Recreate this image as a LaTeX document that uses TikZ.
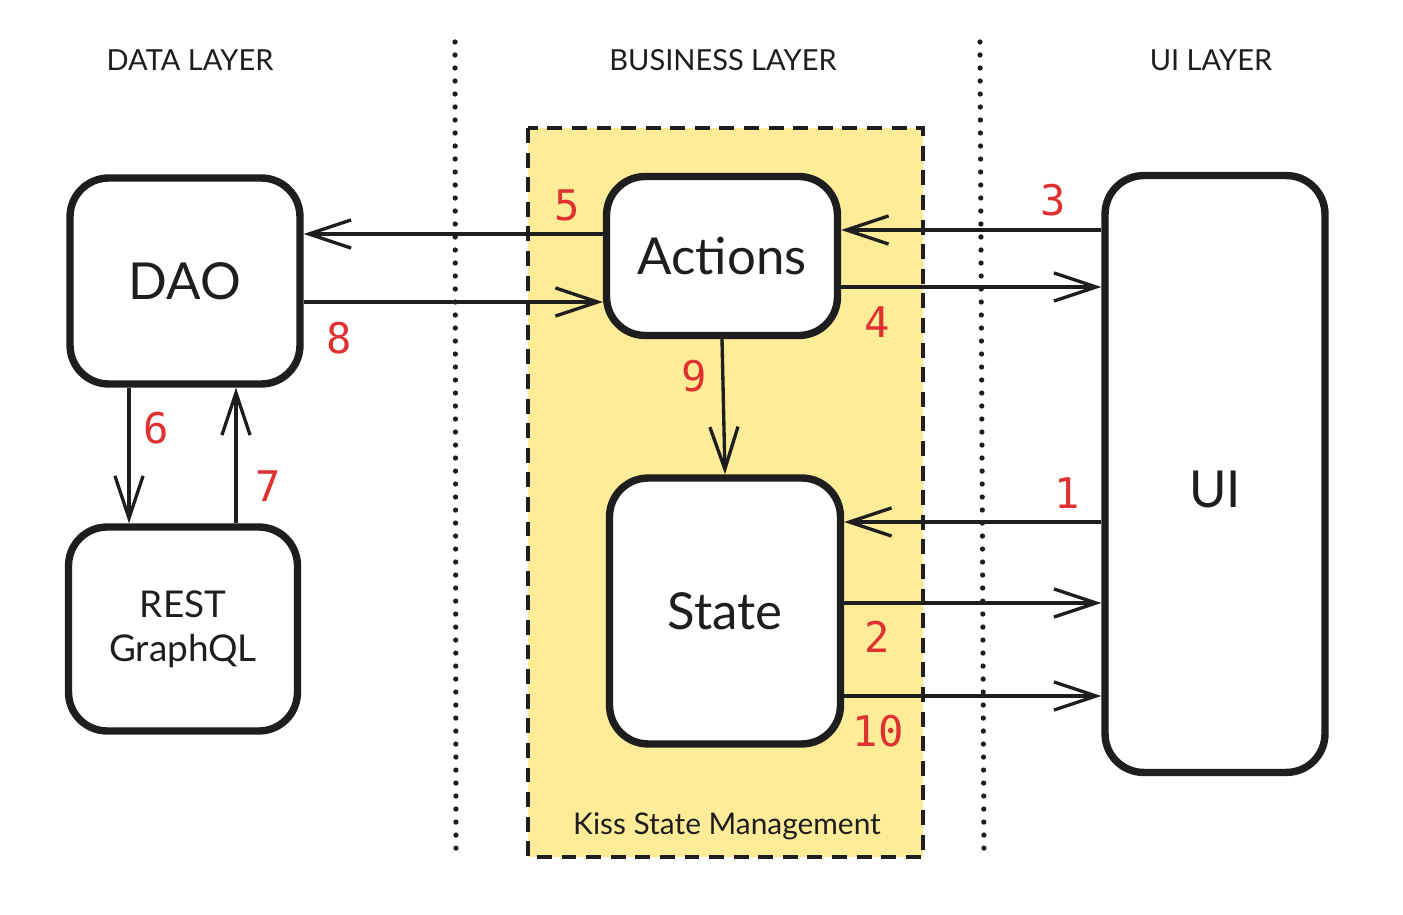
\documentclass[tikz,border=0pt]{standalone}
\usepackage{fontspec}
\setmainfont{Lato}
\newfontfamily\numfont{DejaVu Sans Mono}
\usetikzlibrary{arrows.meta,calc}
\definecolor{numred}{HTML}{E03131}
\definecolor{zoneyellow}{HTML}{FFEC99}
\definecolor{ink}{HTML}{1E1E1E}
\begin{document}
\begin{tikzpicture}[x=0.02cm,y=-0.02cm,
  box/.style={draw=ink,line width=4.2pt,rounded corners=22pt,fill=white,inner sep=0pt,align=center,text=ink},
  arr/.style={draw=ink,line width=1.9pt,-{Straight Barb[length=24pt,width=16pt,line width=1.9pt]}},
  num/.style={text=numred,font=\numfont\fontsize{24}{28}\selectfont},
  layer/.style={font=\fontsize{16.5}{20}\selectfont,text=ink},
  sep/.style={draw=ink,line width=3pt,line cap=round,dash pattern=on 0pt off 7.4pt},
  zone/.style={draw=ink,fill=zoneyellow,line width=1.8pt,dash pattern=on 8.5pt off 5.5pt}]
\fill[white] (0,0) rectangle (1403,915);
\useasboundingbox (0,0) rectangle (1403,915);
% layer separators
\draw[sep] (455,42) -- (456,858);
\draw[sep] (980,42) -- (984,858);
% layer titles
\node[layer] (tdata) at (190,60) {DATA LAYER};
\node[layer] (tbus) at (723,60) {BUSINESS LAYER};
\node[layer] (tui) at (1211,60) {UI LAYER};
% business zone
\path[zone] (528,128) rectangle (923,857);
\node[font=\fontsize{17}{20}\selectfont,text=ink] (kiss) at (727,826) {Kiss State Management};
% boxes
\node[box,minimum width=4.6cm,minimum height=4.12cm,font=\fontsize{29}{34}\selectfont] (dao) at (185,281) {DAO};
\node[box,minimum width=4.58cm,minimum height=4.08cm,font=\fontsize{21}{25}\selectfont] (rest) at (183,629) {REST\\GraphQL};
\node[box,minimum width=4.62cm,minimum height=3.18cm,font=\fontsize{29}{34}\selectfont] (act) at (722,256) {Actions};
\node[box,minimum width=4.62cm,minimum height=5.32cm,font=\fontsize{29}{34}\selectfont] (state) at (725,611) {State};
\node[box,minimum width=4.4cm,minimum height=11.94cm,font=\fontsize{29}{34}\selectfont] (ui) at (1215,474) {\raisebox{-0.68cm}[0pt][0pt]{UI}};
% connectors
\draw[arr] ($(act.west)+(0,-22)$) coordinate (a5) -- (a5 -| dao.east);
\draw[arr] ($(dao.east)+(0,21)$) coordinate (a8) -- (a8 -| act.west);
\draw[arr] ($(ui.west)+(0,-244)$) coordinate (a3) -- (a3 -| act.east);
\draw[arr] ($(act.east)+(0,31)$) coordinate (a4) -- (a4 -| ui.west);
\draw[arr] (act.south) -- (state.north);
\draw[arr] ($(dao.south)+(-56,0)$) coordinate (a6) -- (a6 |- rest.north);
\draw[arr] ($(rest.north)+(53,0)$) coordinate (a7) -- (a7 |- dao.south);
\draw[arr] ($(ui.west)+(0,48)$) coordinate (a1) -- (a1 -| state.east);
\draw[arr] ($(state.east)+(0,-8)$) coordinate (a2) -- (a2 -| ui.west);
\draw[arr] ($(state.east)+(0,85)$) coordinate (a10) -- (a10 -| ui.west);
% labels
\node[num] (n5) at (567,205) {5};
\node[num] (n8) at (339,338) {8};
\node[num] (n3) at (1053,200) {3};
\node[num] (n4) at (877,322) {4};
\node[num] (n9) at (694,376) {9};
\node[num] (n6) at (156,428) {6};
\node[num] (n7) at (268,486) {7};
\node[num] (n1) at (1067,493) {1};
\node[num] (n2) at (877,637) {2};
\node[num] (n10) at (878,731) {10};
\end{tikzpicture}
\end{document}
